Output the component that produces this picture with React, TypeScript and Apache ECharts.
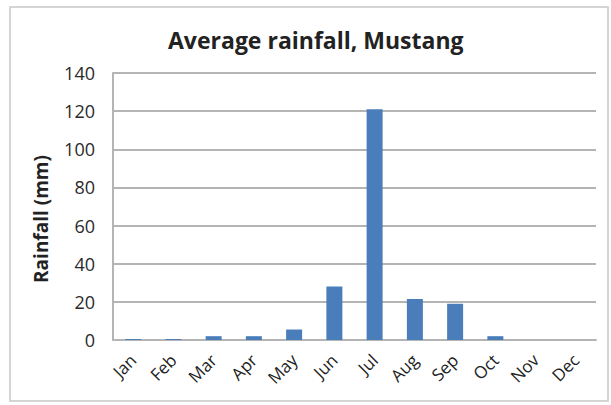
import React, { useEffect, useRef } from "react";
import * as echarts from "echarts";

const months = ["Jan", "Feb", "Mar", "Apr", "May", "Jun", "Jul", "Aug", "Sep", "Oct", "Nov", "Dec"];
const rainfall = [0.5, 0.5, 2, 2, 5.5, 28, 121, 21.5, 19, 2, 0, 0];
const titleText = "Average rainfall, Mustang";
const yAxisName = "Rainfall (mm)";

export default function App() {
  const ref = useRef<HTMLDivElement>(null);
  useEffect(() => {
    document.body.style.margin = "0";
    const chart = echarts.init(ref.current!, null, { renderer: "svg" });
    const font = "'Open Sans', 'DejaVu Sans', sans-serif";
    chart.setOption({
      animation: false,
      backgroundColor: "#ffffff",
      title: {
        text: titleText,
        left: 163,
        top: 23,
        textStyle: { fontFamily: font, fontSize: 23, fontWeight: "bold", color: "#222" },
      },
      graphic: [
        {
          type: "rect",
          shape: { x: 10, y: 7, width: 598, height: 394 },
          style: { fill: "none", stroke: "#c8c8c8", lineWidth: 1.5 },
          silent: true,
        },
        {
          type: "text",
          x: 41,
          y: 219,
          rotation: Math.PI / 2,
          style: {
            text: yAxisName,
            fontFamily: font,
            fontSize: 19,
            fontWeight: "bold",
            fill: "#222",
            align: "center",
            verticalAlign: "middle",
          },
          silent: true,
        },
      ],
      grid: { left: 113, right: 15, top: 73, bottom: 65 },
      xAxis: {
        type: "category",
        data: months,
        axisLine: { show: true, lineStyle: { color: "#b4b4b4", width: 2 } },
        axisTick: { show: false },
        axisLabel: { rotate: 45, fontFamily: font, fontSize: 17, color: "#222", margin: 17 },
      },
      yAxis: {
        type: "value",
        min: 0,
        max: 140,
        interval: 20,
        axisLine: { show: true, lineStyle: { color: "#b4b4b4", width: 2 } },
        axisTick: { show: false },
        splitLine: { lineStyle: { color: "#b4b4b4", width: 2 } },
        axisLabel: { fontFamily: font, fontSize: 18, color: "#2a2a2a", margin: 18 },
      },
      series: [
        {
          type: "bar",
          data: rainfall,
          barWidth: 16,
          itemStyle: { color: "#4a7ebb" },
        },
      ],
    });
    return () => chart.dispose();
  }, []);
  return <div ref={ref} style={{ width: 611, height: 405 }} />;
}
